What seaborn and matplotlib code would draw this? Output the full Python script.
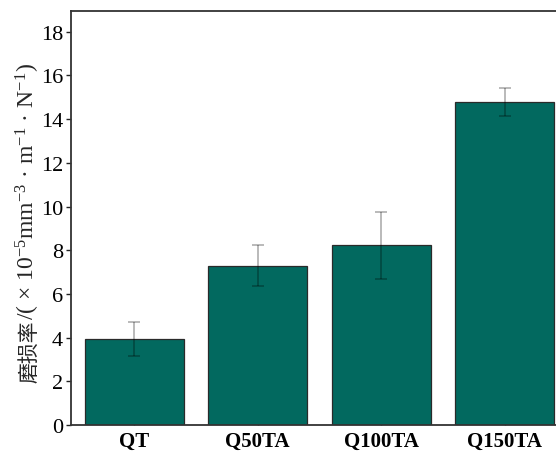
import matplotlib
matplotlib.use("Agg")
import matplotlib.pyplot as plt
import seaborn as sns
import pandas as pd

# Wear rate of each specimen group (×10⁻⁵ mm³·m⁻¹·N⁻¹) with its spread
samples = ["QT", "Q50TA", "Q100TA", "Q150TA"]
wear_rate = [3.95, 7.29, 8.22, 14.77]
wear_err = [0.77, 0.93, 1.52, 0.64]
y_ticks = [0, 2, 4, 6, 8, 10, 12, 14, 16, 18]
label_cjk = "磨损率"
label_unit = r"/( × 10$^{-5}$mm$^{-3}$ · m$^{-1}$ · N$^{-1}$)"

sns.set_theme(style="ticks")
plt.rcParams["font.family"] = ["Liberation Serif", "Noto Sans CJK SC", "DejaVu Sans"]
plt.rcParams["mathtext.fontset"] = "custom"
plt.rcParams["mathtext.rm"] = "Liberation Serif"
plt.rcParams["mathtext.it"] = "Liberation Serif:italic"
plt.rcParams["mathtext.bf"] = "Liberation Serif:bold"

df = pd.DataFrame({"sample": samples, "rate": wear_rate})

fig = plt.figure(figsize=(5.56, 4.52), dpi=100)
# axes extend a little beyond the right edge of the canvas
ax = fig.add_axes([71 / 556, 26 / 452, 497 / 556, 414 / 452])

sns.barplot(data=df, x="sample", y="rate", order=samples, color="#02695f",
            saturation=1, width=0.8, edgecolor="#2a2a2a", linewidth=0.9, ax=ax)
ax.errorbar(range(len(samples)), wear_rate, yerr=wear_err, fmt="none",
            ecolor=(0, 0, 0, 0.35), elinewidth=1.1, capsize=4, capthick=1.1)

ax.set_xlim(-0.51, 3.51)
ax.set_ylim(0, 18.95)
ax.set_yticks(y_ticks)
ax.set_xlabel("")
ax.set_ylabel("")

ax.tick_params(axis="y", direction="out", length=3.6, width=1, labelsize=16,
               colors="#222222", labelcolor="black", pad=2.2)
ax.tick_params(axis="x", direction="in", length=6, width=1, labelsize=15,
               colors="#222222", labelcolor="black", pad=4)
for lab in ax.get_xticklabels():
    lab.set_fontweight("bold")

for side in ["left", "bottom", "top", "right"]:
    ax.spines[side].set_visible(True)
    ax.spines[side].set_color("#333333")
    ax.spines[side].set_linewidth(1.3)

# y-axis title: CJK part and unit part set in their own fonts, baseline-aligned
base_x = 35 / 556
t1 = fig.text(base_x, 69 / 452, label_cjk, rotation=90, rotation_mode="anchor",
              ha="left", va="baseline", fontsize=15,
              family=["Noto Sans CJK SC", "DejaVu Sans"])
fig.canvas.draw()
bb = t1.get_window_extent(fig.canvas.get_renderer())
fig.text(base_x, bb.y1 / fig.bbox.height, label_unit, rotation=90,
         rotation_mode="anchor", ha="left", va="baseline", fontsize=17,
         family=["Liberation Serif", "DejaVu Sans"])

fig.savefig("out.png", dpi=100)
